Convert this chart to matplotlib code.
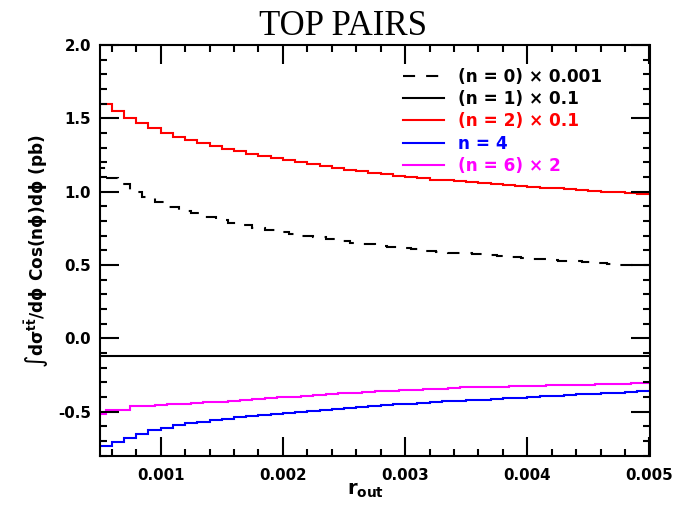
import numpy as np
import matplotlib
matplotlib.use("Agg")
import matplotlib.pyplot as plt
from matplotlib.ticker import MultipleLocator, FormatStrFormatter

# ---------------- data ----------------
# regular bins: 0.0005 .. 0.005, width 0.0001
edges_main = np.linspace(0.0005, 0.005, 46)
# half-bin shifted bins used by the n=0 and n=6 histograms
edges_shift = np.linspace(0.00045, 0.00505, 47)

n0_x0p001 = [1.160, 1.091, 1.050, 1.000, 0.960, 0.927, 0.898, 0.869, 0.853, 0.830,
             0.807, 0.785, 0.773, 0.750, 0.739, 0.727, 0.709, 0.698, 0.689, 0.675,
             0.664, 0.652, 0.643, 0.630, 0.625, 0.614, 0.607, 0.596, 0.589, 0.580,
             0.578, 0.575, 0.568, 0.562, 0.553, 0.550, 0.539, 0.534, 0.530, 0.525,
             0.518, 0.512, 0.505, 0.502, 0.500, 0.498]

n1_x0p1 = [-0.122] * 12 + [-0.120] * 16 + [-0.118] * 17

n2_x0p1 = [1.598, 1.550, 1.505, 1.466, 1.432, 1.402, 1.375, 1.352, 1.330, 1.311,
           1.293, 1.275, 1.259, 1.243, 1.229, 1.216, 1.200, 1.187, 1.175, 1.162,
           1.150, 1.139, 1.130, 1.119, 1.109, 1.100, 1.091, 1.082, 1.077, 1.073,
           1.066, 1.059, 1.052, 1.046, 1.040, 1.034, 1.028, 1.022, 1.016, 1.010,
           1.005, 1.000, 0.994, 0.988, 0.982]

n4 = [-0.738, -0.708, -0.681, -0.654, -0.629, -0.611, -0.595, -0.581, -0.570, -0.558,
      -0.549, -0.540, -0.531, -0.524, -0.517, -0.510, -0.502, -0.495, -0.488, -0.481,
      -0.474, -0.468, -0.461, -0.456, -0.452, -0.447, -0.443, -0.436, -0.431, -0.427,
      -0.424, -0.420, -0.415, -0.411, -0.406, -0.402, -0.397, -0.392, -0.388, -0.383,
      -0.379, -0.376, -0.372, -0.367, -0.363]

n6_x2 = [-0.518, -0.490, -0.490, -0.465, -0.461, -0.456, -0.452, -0.447, -0.443, -0.438,
         -0.434, -0.429, -0.422, -0.418, -0.411, -0.404, -0.400, -0.393, -0.390, -0.379,
         -0.377, -0.372, -0.368, -0.363, -0.359, -0.356, -0.352, -0.347, -0.343, -0.338,
         -0.336, -0.335, -0.333, -0.331, -0.329, -0.327, -0.325, -0.322, -0.320, -0.318,
         -0.316, -0.313, -0.311, -0.309, -0.307, -0.305]

labels = ["(n = 0) \u00d7 0.001", "(n = 1) \u00d7 0.1", "(n = 2) \u00d7 0.1",
          "n = 4", "(n = 6) \u00d7 2"]
colors = ["black", "black", "red", "blue", "magenta"]

xticks = [0.001, 0.002, 0.003, 0.004, 0.005]
yticks = [-0.5, 0.0, 0.5, 1.0, 1.5, 2.0]

# ---------------- figure ----------------
plt.rcParams['font.family'] = ['DejaVu Sans']
plt.rcParams['mathtext.default'] = 'bf'

W, H = 677, 505
fig = plt.figure(figsize=(W / 100, H / 100), dpi=100)
ax = fig.add_axes([99.6 / W, 1 - 455.5 / H, 549.9 / W, 410.5 / H])

lw = 1.5
h0 = ax.stairs(n0_x0p001, edges_shift, baseline=None, color=colors[0], lw=lw,
               linestyle=(0, (5.8, 5.3)))
h1 = ax.stairs(n1_x0p1, edges_main, baseline=None, color=colors[1], lw=lw)
h2 = ax.stairs(n2_x0p1, edges_main, baseline=None, color=colors[2], lw=lw)
h4 = ax.stairs(n4, edges_main, baseline=None, color=colors[3], lw=lw)
h6 = ax.stairs(n6_x2, edges_shift, baseline=None, color=colors[4], lw=lw)

ax.set_xlim(0.0005, 0.005)
ax.set_ylim(-0.8, 2.0)

ax.set_xticks(xticks)
ax.set_yticks(yticks)
ax.xaxis.set_minor_locator(MultipleLocator(0.0002))
ax.yaxis.set_minor_locator(MultipleLocator(0.1))
ax.xaxis.set_major_formatter(FormatStrFormatter('%.3f'))
ax.yaxis.set_major_formatter(FormatStrFormatter('%.1f'))

ax.tick_params(which='both', direction='in', top=True, right=True, width=1.5)
ax.tick_params(which='major', length=13.5)
ax.tick_params(which='minor', length=5)
ax.tick_params(axis='x', which='major', pad=9)
ax.tick_params(axis='y', which='major', pad=6)
for lab in ax.get_xticklabels() + ax.get_yticklabels():
    lab.set_fontweight('bold')
    lab.set_fontsize(10.8)
for sp in ax.spines.values():
    sp.set_linewidth(1.5)

leg = ax.legend([h0, h1, h2, h4, h6], labels, loc='upper left',
                bbox_to_anchor=(403 / W, 1 - 67.5 / H), bbox_transform=fig.transFigure,
                frameon=False, prop={'weight': 'bold', 'size': 12.2},
                handlelength=2.4, handletextpad=0.85, labelspacing=0.26,
                borderpad=0, borderaxespad=0)
for t, c in zip(leg.get_texts(), colors):
    t.set_color(c)

fig.text(343 / W, 1 - 35 / H, "TOP PAIRS", ha='center', va='baseline',
         fontsize=25, family='Liberation Serif')

fig.text(37 / W, 1 - 251 / H,
         r'$\int$d$\sigma^{t\bar{t}}$/d$\phi$ Cos(n$\phi$)d$\phi$ (pb)',
         rotation=90, ha='center', va='center', fontsize=12.2, fontweight='bold')

fig.text(366 / W, 1 - 490 / H, r'$\mathbf{r}_{\mathbf{out}}$', ha='center',
         va='center', fontsize=14, fontweight='bold')

fig.savefig("out.png", dpi=100)
